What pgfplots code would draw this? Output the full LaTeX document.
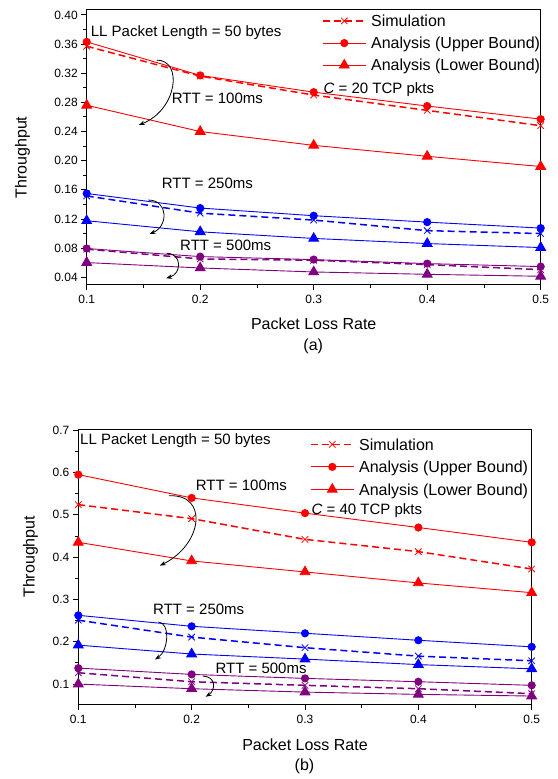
\documentclass[border=0pt]{standalone}
\usepackage{fontspec}
\setmainfont{Liberation Sans}
\usepackage{pgfplots}
\pgfplotsset{compat=1.18}
\usetikzlibrary{arrows.meta}

\definecolor{cred}{RGB}{255,0,0}
\definecolor{cblue}{RGB}{0,0,255}
\definecolor{cpurple}{RGB}{128,0,128}

\newcommand{\annfont}{\fontsize{15bp}{18bp}\selectfont}

\pgfplotsset{
  sim/.style={dash pattern=on 7bp off 4bp, line width=1.5bp, mark=x, mark size=4.6bp,
    mark options={solid, line width=0.8bp}},
  upper/.style={solid, line width=0.9bp, mark=*, mark size=3.6bp, mark options={solid}},
  lower/.style={solid, line width=0.9bp, mark=triangle*, mark size=5.6bp, mark options={solid}},
  paper/.style={
    scale only axis, clip=false,
    xmin=0.1, xmax=0.5,
    xtick={0.1,0.2,0.3,0.4,0.5},
    minor x tick num=1, minor y tick num=1,
    tick pos=left, tick align=outside,
    major tick length=5.5bp, minor tick length=3.5bp,
    axis line style={line width=1bp},
    every tick/.style={black, line width=0.9bp},
    /pgf/number format/assume math mode=true,
    ticklabel style={font=\fontsize{12bp}{12bp}\selectfont},
    xticklabel style={/pgf/number format/fixed, /pgf/number format/precision=1, yshift=-1.5bp},
    label style={font=\fontsize{16bp}{16bp}\selectfont},
    legend style={draw=none, fill=none, inner sep=0pt,
      font=\fontsize{16bp}{16bp}\selectfont,
      nodes={inner sep=0pt, text height=13.2bp, text depth=1.8bp},
      cells={anchor=west},
      /tikz/every odd column/.append style={column sep=4.4bp}},
    legend image code/.code={
      \draw[mark repeat=2, mark phase=2, ##1] plot coordinates {(0bp,0bp) (21.7bp,0bp) (43.4bp,0bp)};
    },
  },
}

\begin{document}
\begin{tikzpicture}
\path[use as bounding box] (0,0) rectangle (558bp,779bp);

% ---------- (a) C = 20 ----------
\begin{axis}[paper,
  at={(86.7bp,494.7bp)}, anchor=south west,
  width=454bp, height=275bp,
  ymin=0.0304, ymax=0.4077,
  ytick={0.04,0.08,0.12,0.16,0.20,0.24,0.28,0.32,0.36,0.40},
  yticklabel style={/pgf/number format/fixed, /pgf/number format/fixed zerofill, /pgf/number format/precision=2},
  xlabel={Packet Loss Rate},
  ylabel={Throughput},
  xlabel style={at={(axis description cs:0.5,-0.1444)}, anchor=center},
  ylabel style={at={(axis description cs:-0.1414,0.461)}, anchor=center},
  legend style={at={(axis cs:0.307,0.4023)}, anchor=north west, row sep=7.15bp},
]
\addplot[sim, cred] coordinates {(0.1,0.357)(0.2,0.316)(0.3,0.290)(0.4,0.269)(0.5,0.248)};
\addlegendentry{Simulation}
\addplot[upper, cred] coordinates {(0.1,0.363)(0.2,0.317)(0.3,0.294)(0.4,0.275)(0.5,0.257)};
\addlegendentry{Analysis (Upper Bound)}
\addplot[lower, cred] coordinates {(0.1,0.276)(0.2,0.240)(0.3,0.221)(0.4,0.206)(0.5,0.192)};
\addlegendentry{Analysis (Lower Bound)}

\addplot[sim, cblue, forget plot] coordinates {(0.1,0.1516)(0.2,0.128)(0.3,0.1185)(0.4,0.104)(0.5,0.100)};
\addplot[upper, cblue, forget plot] coordinates {(0.1,0.155)(0.2,0.135)(0.3,0.1245)(0.4,0.1157)(0.5,0.1075)};
\addplot[lower, cblue, forget plot] coordinates {(0.1,0.1176)(0.2,0.1024)(0.3,0.0933)(0.4,0.0863)(0.5,0.0808)};

\addplot[sim, cpurple, forget plot] coordinates {(0.1,0.0786)(0.2,0.0652)(0.3,0.0634)(0.4,0.0574)(0.5,0.0505)};
\addplot[upper, cpurple, forget plot] coordinates {(0.1,0.0795)(0.2,0.0684)(0.3,0.0643)(0.4,0.0588)(0.5,0.0547)};
\addplot[lower, cpurple, forget plot] coordinates {(0.1,0.0602)(0.2,0.0528)(0.3,0.0473)(0.4,0.0441)(0.5,0.0414)};

\node[anchor=west, inner sep=0pt, font=\annfont] at (axis cs:0.1035,0.376) {LL Packet Length = 50 bytes};
\node[anchor=west, inner sep=0pt, font=\annfont] at (axis cs:0.1749,0.2856) {RTT = 100ms};
\node[anchor=west, inner sep=0pt, font=\annfont] at (axis cs:0.1661,0.1689) {RTT = 250ms};
\node[anchor=west, inner sep=0pt, font=\annfont] at (axis cs:0.1822,0.0833) {RTT = 500ms};
\node[anchor=west, inner sep=0pt, font=\annfont] at (axis cs:0.3085,0.2979) {\textit{C} = 20 TCP pkts};

\draw[line width=0.8bp, -{Stealth[length=6bp,width=4.5bp]}] (axis cs:0.1617,0.338) .. controls (axis cs:0.185,0.338) and (axis cs:0.180,0.270) .. (axis cs:0.146,0.249);
\draw[line width=0.8bp, -{Stealth[length=6bp,width=4.5bp]}] (axis cs:0.1543,0.146) .. controls (axis cs:0.172,0.146) and (axis cs:0.172,0.110) .. (axis cs:0.1555,0.0996);
\draw[line width=0.8bp, -{Stealth[length=6bp,width=4.5bp]}] (axis cs:0.1705,0.0729) .. controls (axis cs:0.184,0.073) and (axis cs:0.184,0.045) .. (axis cs:0.170,0.0387);
\end{axis}
\node[font=\fontsize{16bp}{16bp}\selectfont] at (313.2bp,432.3bp) {(a)};

% ---------- (b) C = 40 ----------
\begin{axis}[paper,
  at={(78.3bp,74.5bp)}, anchor=south west,
  width=453.4bp, height=274.5bp,
  ymin=0.0517, ymax=0.7005,
  ytick={0.1,0.2,0.3,0.4,0.5,0.6,0.7},
  yticklabel style={/pgf/number format/fixed, /pgf/number format/precision=1},
  xlabel={Packet Loss Rate},
  ylabel={Throughput},
  xlabel style={at={(axis description cs:0.5,-0.145)}, anchor=center},
  ylabel style={at={(axis description cs:-0.1054,0.538)}, anchor=center},
  legend style={at={(axis cs:0.3041,0.6847)}, anchor=north west, row sep=7.5bp},
]
\addplot[sim, cred] coordinates {(0.1,0.524)(0.2,0.491)(0.3,0.442)(0.4,0.413)(0.5,0.372)};
\addlegendentry{Simulation}
\addplot[upper, cred] coordinates {(0.1,0.595)(0.2,0.540)(0.3,0.504)(0.4,0.470)(0.5,0.435)};
\addlegendentry{Analysis (Upper Bound)}
\addplot[lower, cred] coordinates {(0.1,0.435)(0.2,0.391)(0.3,0.365)(0.4,0.339)(0.5,0.316)};
\addlegendentry{Analysis (Lower Bound)}

\addplot[sim, cblue, forget plot] coordinates {(0.1,0.251)(0.2,0.211)(0.3,0.186)(0.4,0.166)(0.5,0.155)};
\addplot[upper, cblue, forget plot] coordinates {(0.1,0.2625)(0.2,0.2365)(0.3,0.220)(0.4,0.2035)(0.5,0.188)};
\addplot[lower, cblue, forget plot] coordinates {(0.1,0.192)(0.2,0.171)(0.3,0.159)(0.4,0.146)(0.5,0.136)};

\addplot[sim, cpurple, forget plot] coordinates {(0.1,0.1267)(0.2,0.1055)(0.3,0.097)(0.4,0.089)(0.5,0.0772)};
\addplot[upper, cpurple, forget plot] coordinates {(0.1,0.1377)(0.2,0.1228)(0.3,0.1134)(0.4,0.1055)(0.5,0.097)};
\addplot[lower, cpurple, forget plot] coordinates {(0.1,0.100)(0.2,0.089)(0.3,0.081)(0.4,0.0756)(0.5,0.0717)};

\node[anchor=west, inner sep=0pt, font=\annfont] at (axis cs:0.1015,0.6748) {LL Packet Length = 50 bytes};
\node[anchor=west, inner sep=0pt, font=\annfont] at (axis cs:0.2036,0.5688) {RTT = 100ms};
\node[anchor=west, inner sep=0pt, font=\annfont] at (axis cs:0.1659,0.2767) {RTT = 250ms};
\node[anchor=west, inner sep=0pt, font=\annfont] at (axis cs:0.2209,0.137) {RTT = 500ms};
\node[anchor=west, inner sep=0pt, font=\annfont] at (axis cs:0.3056,0.510) {\textit{C} = 40 TCP pkts};

\draw[line width=0.8bp, -{Stealth[length=6bp,width=4.5bp]}] (axis cs:0.180,0.545) .. controls (axis cs:0.215,0.550) and (axis cs:0.210,0.430) .. (axis cs:0.172,0.380);
\draw[line width=0.8bp, -{Stealth[length=6bp,width=4.5bp]}] (axis cs:0.1707,0.2468) .. controls (axis cs:0.181,0.245) and (axis cs:0.180,0.180) .. (axis cs:0.1677,0.158);
\draw[line width=0.8bp, -{Stealth[length=6bp,width=4.5bp]}] (axis cs:0.2099,0.1188) .. controls (axis cs:0.222,0.118) and (axis cs:0.221,0.085) .. (axis cs:0.2124,0.070);
\end{axis}
\node[font=\fontsize{16bp}{16bp}\selectfont] at (304.5bp,13bp) {(b)};
\end{tikzpicture}
\end{document}
